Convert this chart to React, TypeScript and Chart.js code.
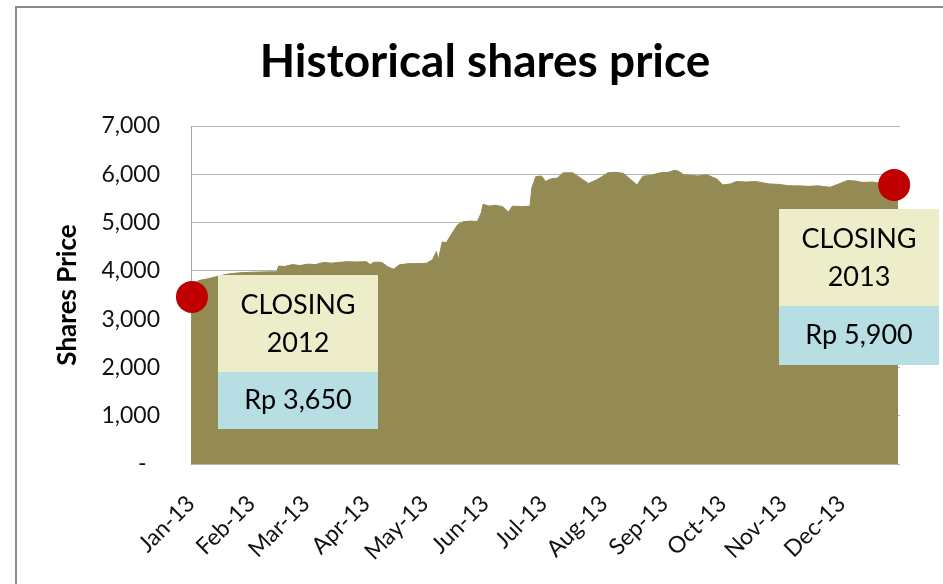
import React, { useEffect, useRef } from 'react';
import { Chart, registerables } from 'chart.js';

Chart.register(...registerables);

const chartTitle = 'Historical shares price';
const yAxisTitle = 'Shares Price';

const monthLabels = ['Jan-13', 'Feb-13', 'Mar-13', 'Apr-13', 'May-13', 'Jun-13', 'Jul-13', 'Aug-13', 'Sep-13', 'Oct-13', 'Nov-13', 'Dec-13'];
const monthStartDays = [0, 31, 59, 90, 120, 151, 181, 212, 243, 273, 304, 334];

// day of year 2013 (0 = 1 Jan)
const priceDays = [
  0, 2, 4, 8, 12, 16, 20, 25, 30, 35, 40, 44,
  45, 48, 52, 56, 60, 64, 68, 72, 76, 80, 85, 90,
  92, 94, 98, 101, 104, 107, 112, 118, 121, 124, 126, 127,
  129, 131, 133, 135, 137, 140, 144, 147, 149, 150, 153, 156,
  160, 163, 165, 170, 174, 175, 177, 180, 182, 185, 188, 191,
  196, 199, 204, 208, 211, 214, 218, 222, 224, 229, 232, 236,
  241, 245, 248, 250, 253, 257, 260, 264, 266, 270, 273, 277,
  280, 285, 290, 294, 297, 302, 307, 312, 317, 322, 328, 332,
  337, 341, 345, 350, 354, 358, 362, 363,
];
const prices = [
  3700, 3740, 3800, 3830, 3870, 3910, 3940, 3960, 3970, 3975, 3980, 3980,
  4100, 4090, 4130, 4110, 4140, 4130, 4175, 4160, 4175, 4190, 4185, 4190,
  4130, 4180, 4175, 4085, 4035, 4125, 4150, 4150, 4160, 4230, 4400, 4230,
  4600, 4580, 4710, 4840, 4960, 5020, 5030, 5020, 5200, 5380, 5340, 5360,
  5330, 5220, 5340, 5330, 5340, 5720, 5950, 5965, 5850, 5910, 5920, 6030,
  6030, 5950, 5810, 5880, 5950, 6030, 6040, 6020, 5950, 5780, 5960, 5980,
  6030, 6040, 6080, 6070, 5990, 5980, 5965, 5990, 5970, 5900, 5780, 5800,
  5850, 5840, 5850, 5820, 5800, 5790, 5760, 5760, 5750, 5760, 5730, 5790,
  5870, 5860, 5830, 5840, 5810, 5820, 5790, 5790,
];

const markerDays = [0.5, 361];
const markerPrices = [3460, 5780];
const closingTitles = ['CLOSING', 'CLOSING'];
const closingYears = ['2012', '2013'];
const closingValues = ['Rp 3,650', 'Rp 5,900'];

const FONT = 'Lato, "Open Sans", sans-serif';
const AREA = '#948A54';

const decorPlugin = {
  id: 'decor',
  beforeDraw(chart: any) {
    const ctx = chart.ctx;
    ctx.save();
    ctx.fillStyle = '#ffffff';
    ctx.fillRect(0, 0, chart.width, chart.height);
    ctx.strokeStyle = '#8a8a8a';
    ctx.lineWidth = 2;
    ctx.beginPath();
    ctx.moveTo(16, chart.height);
    ctx.lineTo(16, 7);
    ctx.lineTo(chart.width, 7);
    ctx.stroke();
    ctx.fillStyle = '#000';
    ctx.font = `bold 46px ${FONT}`;
    ctx.textAlign = 'center';
    ctx.textBaseline = 'middle';
    ctx.fillText(chartTitle, 485, 62);
    ctx.restore();
  },
  afterDatasetDraw(chart: any, args: any) {
    if (args.index !== 0) return;
    const ctx = chart.ctx;
    const boxes = [
      { x: 218, y: 275, w: 160, h1: 97, h2: 57 },
      { x: 779, y: 209, w: 160, h1: 97, h2: 59 },
    ];
    ctx.save();
    boxes.forEach((b, i) => {
      ctx.fillStyle = '#EEEDCA';
      ctx.fillRect(b.x, b.y, b.w, b.h1);
      ctx.fillStyle = '#B7DEE2';
      ctx.fillRect(b.x, b.y + b.h1, b.w, b.h2);
      ctx.fillStyle = '#000';
      ctx.font = `27px ${FONT}`;
      ctx.textAlign = 'center';
      ctx.textBaseline = 'middle';
      const cx = b.x + b.w / 2;
      ctx.fillText(closingTitles[i], cx, b.y + 30);
      ctx.fillText(closingYears[i], cx, b.y + 68);
      ctx.fillText(closingValues[i], cx, b.y + b.h1 + b.h2 / 2);
    });
    ctx.restore();
  },
};

export default function App() {
  const ref = useRef<HTMLCanvasElement>(null);
  useEffect(() => {
    document.body.style.margin = '0';
    const areaData = priceDays.map((d, i) => ({ x: d, y: prices[i] }));
    const markerData = markerDays.map((d, i) => ({ x: d, y: markerPrices[i] }));
    const chart = new Chart(ref.current as HTMLCanvasElement, {
      type: 'line',
      data: {
        datasets: [
          {
            data: areaData,
            fill: 'origin',
            backgroundColor: AREA,
            borderColor: AREA,
            borderWidth: 1,
            pointRadius: 0,
            tension: 0,
            order: 2,
          },
          {
            data: markerData,
            showLine: false,
            pointRadius: 16,
            pointBackgroundColor: '#C00000',
            pointBorderWidth: 0,
            borderColor: '#C00000',
            clip: false,
            order: 1,
          } as any,
        ],
      },
      options: {
        responsive: false,
        animation: false,
        devicePixelRatio: 1,
        layout: { padding: { top: 126, right: 43, left: 48, bottom: 0 } },
        plugins: { legend: { display: false }, tooltip: { enabled: false }, title: { display: false } },
        scales: {
          x: {
            type: 'linear',
            min: 0,
            max: 364,
            grid: { display: false },
            border: { display: false },
            afterBuildTicks: (scale: any) => {
              scale.ticks = monthStartDays.map((v) => ({ value: v }));
            },
            afterFit: (scale: any) => {
              scale.height = 120;
            },
            ticks: {
              autoSkip: false,
              minRotation: 45,
              maxRotation: 45,
              padding: 18,
              color: '#111',
              font: { family: FONT, size: 23 },
              callback: (v: any) => {
                const i = monthStartDays.indexOf(Number(v));
                return i >= 0 ? monthLabels[i] : '';
              },
            },
          },
          y: {
            min: 0,
            max: 7000,
            afterFit: (scale: any) => {
              scale.width = 191 - 48;
            },
            grid: { color: '#B4B4B4', drawTicks: false },
            border: { color: '#A8A8A8' },
            title: { display: true, text: yAxisTitle, color: '#000', font: { family: FONT, size: 26, weight: 'bold' }, padding: { top: 4, bottom: 4 } },
            ticks: {
              stepSize: 1000,
              padding: 31,
              color: '#111',
              font: { family: FONT, size: 23 },
              callback: (v: any) => (Number(v) === 0 ? '-\u2007' : Number(v).toLocaleString('en-US')),
            },
          },
        },
      },
      plugins: [decorPlugin],
    } as any);
    return () => chart.destroy();
  }, []);
  return (
    <div style={{ position: 'relative', width: 943, height: 584 }}>
      <canvas ref={ref} width={943} height={584} style={{ display: 'block' }} />
    </div>
  );
}
